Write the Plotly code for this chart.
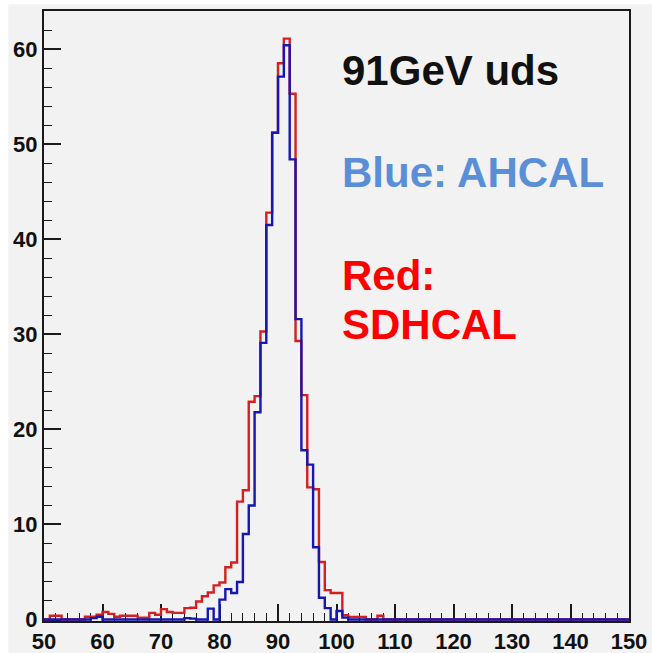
import plotly.graph_objects as go

# Histogram: 1 GeV bins from 50 to 150 (lower edges)
bin_edges = list(range(50, 151))

# Red: SDHCAL (bin lower edge -> content)
red_nonzero = {
    51: 0.4, 52: 0.4, 57: 0.3, 58: 0.3, 59: 0.5, 60: 0.8, 61: 0.6, 62: 0.3,
    63: 0.4, 64: 0.4, 65: 0.4, 66: 0.2, 67: 0.2, 68: 0.7, 69: 0.5, 70: 1.1,
    71: 0.8, 72: 0.7, 73: 0.7, 74: 1.2, 75: 1.25, 76: 1.9, 77: 2.45, 78: 2.85,
    79: 3.6, 80: 3.9, 81: 5.5, 82: 6.0, 83: 12.4, 84: 13.6, 85: 22.9, 86: 23.5,
    87: 30.3, 88: 42.8, 89: 51.2, 90: 58.5, 91: 61.1, 92: 55.3, 93: 29.3,
    94: 23.6, 95: 13.9, 96: 13.7, 97: 6.05, 98: 3.1, 99: 2.8, 100: 2.8,
    101: 0.45, 102: 0.28, 103: 0.28, 104: 0.28, 107: 0.4,
}
# Blue: AHCAL
blue_nonzero = {
    58: 0.15, 59: 0.3, 74: 0.15, 75: 0.1, 78: 1.15, 80: 2.1, 81: 3.2, 82: 2.8,
    83: 3.95, 84: 9.0, 85: 12.0, 86: 21.8, 87: 29.1, 88: 41.5, 89: 51.2,
    90: 57.1, 91: 60.4, 92: 48.4, 93: 31.6, 94: 17.8, 95: 16.3, 96: 7.6,
    97: 2.3, 98: 1.2, 100: 0.9, 101: 0.2,
}
red_counts = [red_nonzero.get(e, 0.0) for e in bin_edges[:-1]]
blue_counts = [blue_nonzero.get(e, 0.0) for e in bin_edges[:-1]]

x_ticks = list(range(50, 151, 10))
y_ticks = list(range(0, 61, 10))

RED = "#d42020"
BLUE = "#1616b0"

fig = go.Figure()
for counts, col in [(red_counts, RED), (blue_counts, BLUE)]:
    fig.add_trace(go.Scatter(
        x=bin_edges, y=counts + [counts[-1]],
        mode="lines", line=dict(shape="hv", color=col, width=2.4),
        hoverinfo="skip", showlegend=False,
    ))

W, H = 652, 653
L, R, T, B = 43.7, 629.0, 10.7, 621.0
tick_font = dict(family="Liberation Sans Narrow, Arial Narrow, Liberation Sans, Arial",
                 size=22, color="#111", weight="bold")
axis_common = dict(
    showgrid=False, zeroline=False, showline=True, linecolor="#1a1a1a", linewidth=2,
    mirror=True, ticks="inside", ticklen=17, tickwidth=1.6, tickcolor="#1a1a1a",
    tickfont=tick_font, layer="below traces",
    minor=dict(ticks="inside", ticklen=8, tickwidth=1.4, tickcolor="#1a1a1a", dtick=2),
)
fig.update_xaxes(range=[50, 150], tickvals=x_ticks, **axis_common)
fig.update_yaxes(range=[-0.15, 64], tickvals=y_ticks, **axis_common)

def px_to_paper(xp, yp):
    return (xp - L) / (R - L), (B - yp) / (B - T)

text_font = dict(family="Liberation Sans, Arial", size=42, weight="bold")
labels = [
    ("91GeV uds", "#111111", 340, 70),
    ("Blue: AHCAL", "#5a8fd8", 340, 172),
    ("Red:", "#ff0000", 340, 275),
    ("SDHCAL", "#ff0000", 340, 324),
]
for txt, col, xp, yp in labels:
    xx, yy = px_to_paper(xp, yp)
    fig.add_annotation(x=xx, y=yy, xref="paper", yref="paper", text=txt,
                       showarrow=False, xanchor="left", yanchor="middle",
                       font=dict(color=col, **text_font))

# light-grey canvas with a thin white strip on the left and top
gx0, gy0 = px_to_paper(8, 4)
gx1, gy1 = px_to_paper(W, H)
fig.add_shape(type="rect", xref="paper", yref="paper", x0=gx0, y0=gy1, x1=gx1, y1=gy0,
              line=dict(width=0), fillcolor="#f2f2f2", layer="below")

fig.update_layout(
    width=W, height=H,
    margin=dict(l=L, r=W - R, t=T, b=H - B, autoexpand=False),
    paper_bgcolor="white", plot_bgcolor="#f2f2f2",
)
fig.write_html("out.html")
